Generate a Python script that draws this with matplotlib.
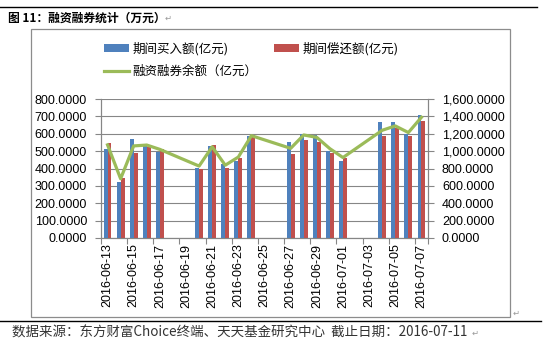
import matplotlib
matplotlib.use("Agg")
import matplotlib.pyplot as plt
from matplotlib.patches import Rectangle
from matplotlib.lines import Line2D
import pandas as pd

plt.rcParams['font.family'] = ['Liberation Sans', 'Noto Sans CJK SC', 'DejaVu Sans']
cjk = ['Noto Sans CJK SC', 'DejaVu Sans']

# 数据
dates = ['2016-06-13', '2016-06-14', '2016-06-15', '2016-06-16', '2016-06-17',
         '2016-06-20', '2016-06-21', '2016-06-22', '2016-06-23', '2016-06-24',
         '2016-06-27', '2016-06-28', '2016-06-29', '2016-06-30', '2016-07-01',
         '2016-07-04', '2016-07-05', '2016-07-06', '2016-07-07']
buy = [512, 322, 570, 527, 497, 405, 530, 427, 446, 588,
       555, 600, 592, 500, 443, 670, 670, 600, 707]
repay = [547, 343, 489, 524, 515, 400, 536, 401, 462, 593,
         482, 563, 553, 491, 458, 586, 632, 588, 672]
balance = [1072, 682, 1060, 1070, 1020, 828, 1050, 838, 932, 1178,
           1032, 1186, 1158, 1028, 926, 1240, 1290, 1214, 1390]
tick_dates = ['2016-06-13', '2016-06-15', '2016-06-17', '2016-06-19', '2016-06-21',
              '2016-06-23', '2016-06-25', '2016-06-27', '2016-06-29', '2016-07-01',
              '2016-07-03', '2016-07-05', '2016-07-07']

start = pd.Timestamp('2016-06-13')
x = [(pd.Timestamp(d) - start).days for d in dates]
xt = [(pd.Timestamp(d) - start).days for d in tick_dates]

W, H = 543, 349
fig = plt.figure(figsize=(W / 100, H / 100), dpi=100)

def fx(px):
    return px / W

def fy(py):
    return 1 - py / H

# 页面装饰：横线、标题、图框、来源
fig.add_artist(Line2D([0, fx(537)], [fy(6.7), fy(6.7)], color='black', lw=1.0))
fig.add_artist(Line2D([0, fx(541)], [fy(320.7), fy(320.7)], color='black', lw=1.0))
fig.add_artist(Rectangle((fx(30.7), fy(317)), fx(510) - fx(30.7), fy(29.3) - fy(317),
                         fill=False, edgecolor='#8c8c8c', lw=0.9))
fig.text(fx(8), fy(18), '图 11：融资融券统计（万元）', family=cjk, fontsize=8.5,
         fontweight='bold', va='center', ha='left')
fig.text(fx(165), fy(18), '↵', family=['DejaVu Sans'], fontsize=6, color='#999999', va='center')
fig.text(fx(513), fy(313), '↵', family=['DejaVu Sans'], fontsize=6, color='#999999', va='center')
fig.text(fx(12), fy(333), '数据来源：东方财富Choice终端、天天基金研究中心  截止日期：2016-07-11',
         family=cjk, fontsize=9.7, color='#333333', va='center', ha='left')
fig.text(fx(472), fy(333), '↵', family=['DejaVu Sans'], fontsize=6, color='#999999', va='center')

ax = fig.add_axes([fx(101), fy(238), fx(428) - fx(101), fy(99) - fy(238)])
ax2 = ax.twinx()

blue = '#4f81bd'
red = '#c0504d'
green = '#9bbb59'
grid_c = '#868686'

bw = 0.3
ax.bar([v - bw / 2 for v in x], buy, width=bw, color=blue, zorder=3, label='期间买入额(亿元)')
ax.bar([v + bw / 2 for v in x], repay, width=bw, color=red, zorder=3, label='期间偿还额(亿元)')
ax2.plot(x, balance, color=green, lw=2.3, solid_joinstyle='round', label='融资融券余额（亿元）')

ax.set_xlim(-0.5, 24.5)
ax.set_ylim(0, 800)
ax2.set_ylim(0, 1600)
ax.set_yticks(range(0, 801, 100))
ax2.set_yticks(range(0, 1601, 200))
ax.set_yticklabels([f'{v:.4f}' for v in range(0, 801, 100)])
ax2.set_yticklabels([f'{v:,.4f}' for v in range(0, 1601, 200)])
ax.yaxis.grid(True, color=grid_c, lw=0.8, zorder=0)
ax.set_axisbelow(True)

ax.set_xticks([v - 0.5 for v in xt] + [24.5])
ax.set_xticklabels([])
ax.set_xticks(xt, minor=True)
ax.set_xticklabels(tick_dates, minor=True, rotation=90, fontsize=9)
ax.tick_params(axis='x', which='major', length=4, color=grid_c, direction='out')
ax.tick_params(axis='x', which='minor', length=0, pad=4)
for a in (ax, ax2):
    a.tick_params(axis='y', length=4, color=grid_c, labelsize=9, pad=6)
    for s in ['top']:
        a.spines[s].set_visible(False)
    for s in ['left', 'right', 'bottom']:
        a.spines[s].set_color(grid_c)
        a.spines[s].set_linewidth(0.8)

h1, l1 = ax.get_legend_handles_labels()
h2, l2 = ax2.get_legend_handles_labels()
handles = [h1[0], h2[0], h1[1]]
labels = [l1[0], l2[0], l1[1]]
fig.legend(handles, labels, loc='upper left', bbox_to_anchor=(fx(104), fy(42)), ncol=2,
           frameon=False, prop={'family': cjk, 'size': 9}, handlelength=2.0,
           handleheight=0.5, handletextpad=0.3, columnspacing=1.3, labelspacing=0.75,
           borderaxespad=0, borderpad=0)

fig.savefig('out.png', dpi=100)
